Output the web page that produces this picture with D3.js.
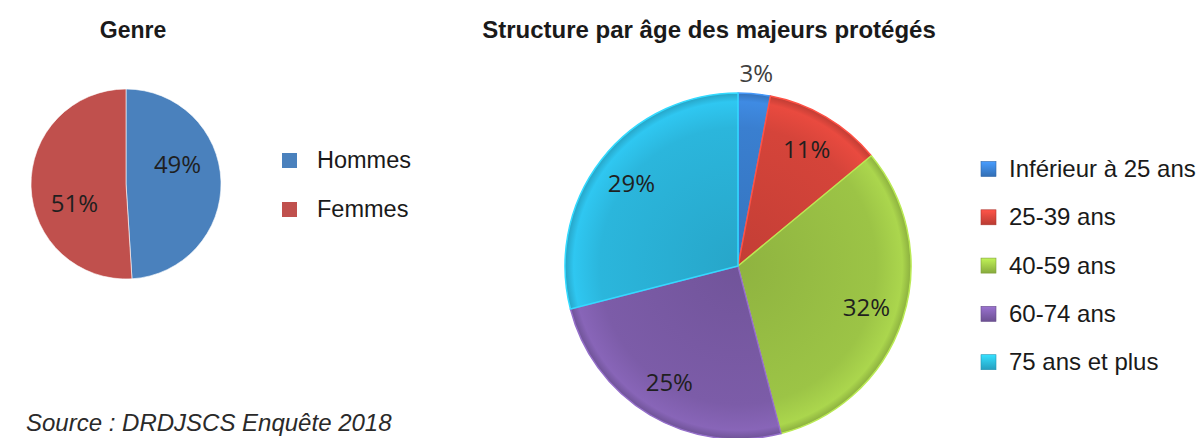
<!DOCTYPE html>
<html>
<head>
<meta charset="utf-8">
<script src="https://cdn.jsdelivr.net/npm/d3@7"></script>
<style>
  body { margin: 0; background: #fff; }
  svg { display: block; }
</style>
</head>
<body>
<svg id="chart" width="1198" height="438"></svg>
<script>
// ----- Data -----
const genreLabels = ["Hommes", "Femmes"];
const genreValues = [49, 51];
const genreColors = ["#4a81bd", "#c0504d"];

const ageLabels = ["Inférieur à 25 ans", "25-39 ans", "40-59 ans", "60-74 ans", "75 ans et plus"];
const ageValues = [3, 11, 32, 25, 29];
const ageColors = ["#3a7fd0", "#d5443a", "#9cc446", "#7c5ca8", "#2bb6dc"];

const FONT = "Arial, 'Liberation Sans', sans-serif";
const LABEL_FONT = "'Open Sans', 'Noto Sans', sans-serif";

const svg = d3.select("#chart");
const defs = svg.append("defs");

// bevel-ish gradients for the age pie
ageColors.forEach((c, i) => {
  const g = defs.append("radialGradient")
    .attr("id", "ag" + i)
    .attr("gradientUnits", "userSpaceOnUse")
    .attr("cx", 0).attr("cy", 0).attr("r", 173);
  g.append("stop").attr("offset", "0%").attr("stop-color", d3.color(c).darker(0.25));
  g.append("stop").attr("offset", "80%").attr("stop-color", c);
  g.append("stop").attr("offset", "95%").attr("stop-color", d3.color(c).brighter(0.25));
  g.append("stop").attr("offset", "100%").attr("stop-color", d3.color(c).darker(0.3));

  const lg = defs.append("linearGradient")
    .attr("id", "lg" + i)
    .attr("x1", 0).attr("y1", 0).attr("x2", 0).attr("y2", 1);
  lg.append("stop").attr("offset", "0%").attr("stop-color", d3.color(c).brighter(0.6));
  lg.append("stop").attr("offset", "100%").attr("stop-color", d3.color(c).darker(0.4));
});

const pie = d3.pie().sort(null).value(d => d);

// ----- Genre pie -----
const g1 = svg.append("g").attr("transform", "translate(126,184)");
const r1 = 95;
const arc1 = d3.arc().innerRadius(0).outerRadius(r1);
const genreArcs = pie(genreValues);

g1.selectAll("path").data(genreArcs).enter().append("path")
  .attr("d", arc1)
  .attr("fill", (d, i) => genreColors[i])
  .attr("stroke", "#ffffff")
  .attr("stroke-width", 0.6);

// labels sit a bit counter-clockwise of the slice middle, as in the source
const labelShift = -0.33;
g1.selectAll("text").data(genreArcs).enter().append("text")
  .attr("transform", d => {
    const a = (d.startAngle + d.endAngle) / 2 + labelShift;
    const rr = r1 * 0.58;
    return `translate(${rr * Math.sin(a)},${-rr * Math.cos(a)})`;
  })
  .attr("text-anchor", "middle")
  .attr("dy", "0.35em")
  .attr("font-family", LABEL_FONT)
  .attr("font-size", 24)
  .attr("fill", "#1f1f1f")
  .text(d => d.data + "%");

svg.append("text")
  .attr("x", 133).attr("y", 38)
  .attr("text-anchor", "middle")
  .attr("font-family", FONT)
  .attr("font-weight", "bold")
  .attr("font-size", 23)
  .attr("fill", "#1a1a1a")
  .text("Genre");

const leg1 = svg.append("g").attr("transform", "translate(282,160)");
const leg1Items = leg1.selectAll("g").data(genreLabels).enter().append("g")
  .attr("transform", (d, i) => `translate(0,${i * 49})`);
leg1Items.append("rect")
  .attr("x", 0).attr("y", -7).attr("width", 15).attr("height", 15)
  .attr("fill", (d, i) => genreColors[i]);
leg1Items.append("text")
  .attr("x", 35).attr("y", 0).attr("dy", "0.35em")
  .attr("font-family", FONT)
  .attr("font-size", 23.5)
  .attr("fill", "#1a1a1a")
  .text(d => d);

// ----- Age pie -----
const r2 = 173;
const g2 = svg.append("g").attr("transform", "translate(738,266)");
const arc2 = d3.arc().innerRadius(0).outerRadius(r2);
const ageArcs = pie(ageValues);

g2.selectAll("path.slice").data(ageArcs).enter().append("path")
  .attr("class", "slice")
  .attr("d", arc2)
  .attr("fill", (d, i) => `url(#ag${i})`)
  .attr("stroke", (d, i) => d3.color(ageColors[i]).brighter(0.5))
  .attr("stroke-width", 1.5)
  .attr("stroke-linejoin", "round");

// label positions (outside for the tiny slice)
const lab2 = d3.arc().innerRadius(r2 * 0.78).outerRadius(r2 * 0.78);
const out2 = d3.arc().innerRadius(r2 * 1.12).outerRadius(r2 * 1.12);
g2.selectAll("text").data(ageArcs).enter().append("text")
  .attr("transform", d => {
    const [x, y] = (d.data < 5 ? out2 : lab2).centroid(d);
    return `translate(${x},${y})`;
  })
  .attr("text-anchor", "middle")
  .attr("dy", "0.35em")
  .attr("font-family", LABEL_FONT)
  .attr("font-size", 24)
  .attr("fill", (d) => d.data < 5 ? "#404040" : "#1f1f1f")
  .text(d => d.data + "%");

svg.append("text")
  .attr("x", 709).attr("y", 38)
  .attr("text-anchor", "middle")
  .attr("font-family", FONT)
  .attr("font-weight", "bold")
  .attr("font-size", 24)
  .attr("fill", "#1a1a1a")
  .text("Structure par âge des majeurs protégés");

const leg2 = svg.append("g").attr("transform", "translate(981,168.5)");
const leg2Items = leg2.selectAll("g").data(ageLabels).enter().append("g")
  .attr("transform", (d, i) => `translate(0,${i * 48.3})`);
leg2Items.append("rect")
  .attr("x", 0).attr("y", -7).attr("width", 15).attr("height", 15)
  .attr("fill", (d, i) => `url(#lg${i})`)
  .attr("stroke", (d, i) => d3.color(ageColors[i]).darker(0.6))
  .attr("stroke-width", 0.6);
leg2Items.append("text")
  .attr("x", 28).attr("y", 0).attr("dy", "0.35em")
  .attr("font-family", FONT)
  .attr("font-size", 24)
  .attr("fill", "#1a1a1a")
  .text(d => d);

// ----- Source -----
svg.append("text")
  .attr("x", 26).attr("y", 431)
  .attr("font-family", FONT)
  .attr("font-style", "italic")
  .attr("font-size", 24)
  .attr("fill", "#2a2a2a")
  .text("Source : DRDJSCS Enquête 2018");
</script>
</body>
</html>
